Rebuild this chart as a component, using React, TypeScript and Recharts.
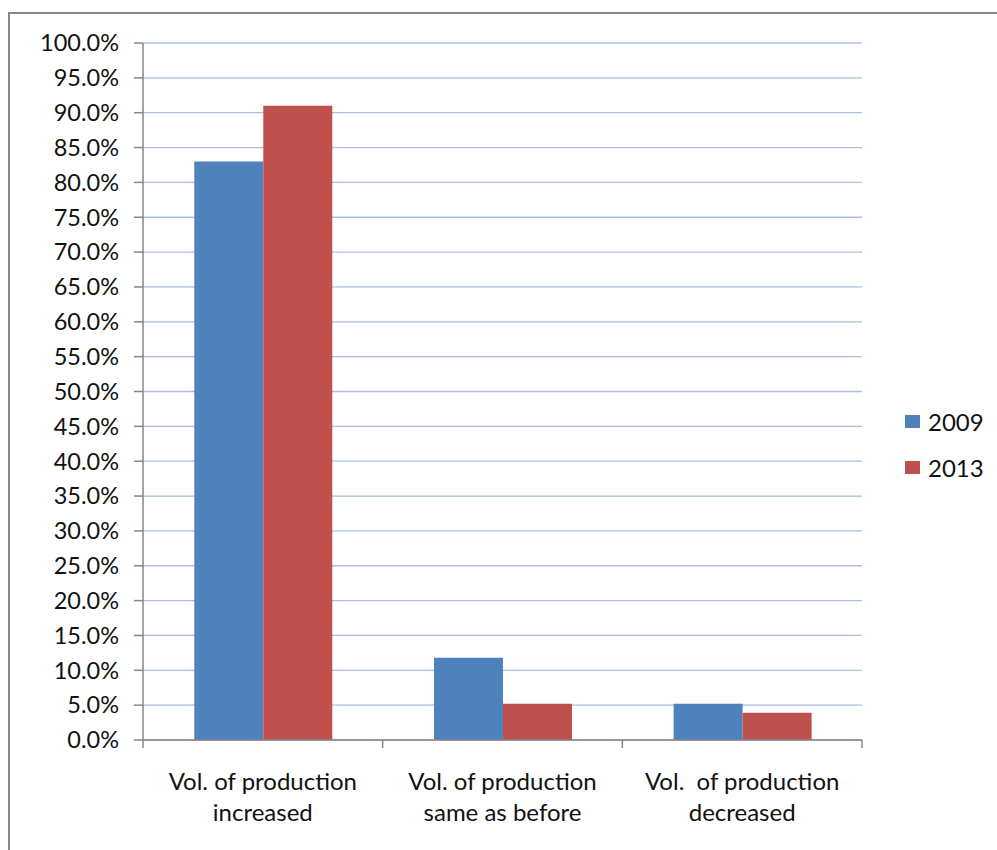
import React from "react";
import { BarChart, Bar, XAxis, YAxis, CartesianGrid } from "recharts";

// categories, each label split over two lines
const categories = [
  ["Vol. of production", "increased"],
  ["Vol. of production", "same as before"],
  ["Vol.  of production", "decreased"],
];

// share of respondents, %
const values2009 = [83.0, 11.8, 5.2];
const values2013 = [91.0, 5.2, 3.9];

const seriesNames = ["2009", "2013"];
const seriesColors = ["#4f81bd", "#c0504d"];

const yTicks = [0, 5, 10, 15, 20, 25, 30, 35, 40, 45, 50, 55, 60, 65, 70, 75, 80, 85, 90, 95, 100];

const data = categories.map((c, i) => ({
  name: c.join(" "),
  s2009: values2009[i],
  s2013: values2013[i],
}));

const W = 987;
const H = 836;
const margin = { top: 29, right: 135, left: 0, bottom: 10 };
const yAxisWidth = 133;
const plotWidth = W - margin.left - margin.right - yAxisWidth;
const band = plotWidth / categories.length;

const font = "Lato, 'Liberation Sans', sans-serif";
const textColor = "#111";
const axisColor = "#868686";

function CategoryTick(props: any) {
  const { x, y, payload, index } = props;
  const lines = categories[payload?.index ?? index] || [];
  const left = x - band / 2;
  const right = x + band / 2;
  return (
    <g>
      <line x1={left} y1={y} x2={left} y2={y + 8} stroke={axisColor} strokeWidth={1.5} />
      {index === categories.length - 1 && (
        <line x1={right} y1={y} x2={right} y2={y + 8} stroke={axisColor} strokeWidth={1.5} />
      )}
      <text
        x={x}
        textAnchor="middle"
        fill={textColor}
        fontFamily={font}
        fontSize={24}
        style={{ whiteSpace: "pre" }}
      >
        {lines.map((l, i) => (
          <tspan key={i} x={x} y={y + 50 + i * 31}>
            {l}
          </tspan>
        ))}
      </text>
    </g>
  );
}

export default function App() {
  return (
    <div
      style={{
        position: "absolute",
        left: 8,
        top: 12,
        width: W,
        height: H,
        borderLeft: `2px solid ${axisColor}`,
        borderTop: `2px solid ${axisColor}`,
        background: "#fff",
      }}
    >
      <BarChart
        width={W}
        height={H}
        data={data}
        margin={margin}
        barGap={0}
        barCategoryGap="21.4%"
      >
        <CartesianGrid horizontal vertical={false} stroke="#a8bfdf" strokeWidth={1.3} />
        <XAxis
          dataKey="name"
          height={100}
          axisLine={{ stroke: axisColor, strokeWidth: 1.5 }}
          tickLine={false}
          tickSize={0}
          tickMargin={0}
          interval={0}
          tick={<CategoryTick />}
        />
        <YAxis
          width={yAxisWidth}
          domain={[0, 100]}
          ticks={yTicks}
          interval={0}
          axisLine={{ stroke: axisColor, strokeWidth: 1.5 }}
          tickLine={{ stroke: axisColor, strokeWidth: 1.5 }}
          tickSize={9}
          tickMargin={15}
          tickFormatter={(v: number) => `${v.toFixed(1)}%`}
          tick={{ fill: textColor, fontFamily: font, fontSize: 23.5 }}
        />
        <Bar dataKey="s2009" name={seriesNames[0]} fill={seriesColors[0]} isAnimationActive={false} />
        <Bar dataKey="s2013" name={seriesNames[1]} fill={seriesColors[1]} isAnimationActive={false} />
      </BarChart>
      <div style={{ position: "absolute", left: 895, top: 384, fontFamily: font, fontSize: 24, color: textColor }}>
        {seriesNames.map((n, i) => (
          <div key={n} style={{ display: "flex", alignItems: "center", height: 46 }}>
            <span style={{ width: 15, height: 13, background: seriesColors[i], marginRight: 8 }} />
            <span>{n}</span>
          </div>
        ))}
      </div>
    </div>
  );
}
